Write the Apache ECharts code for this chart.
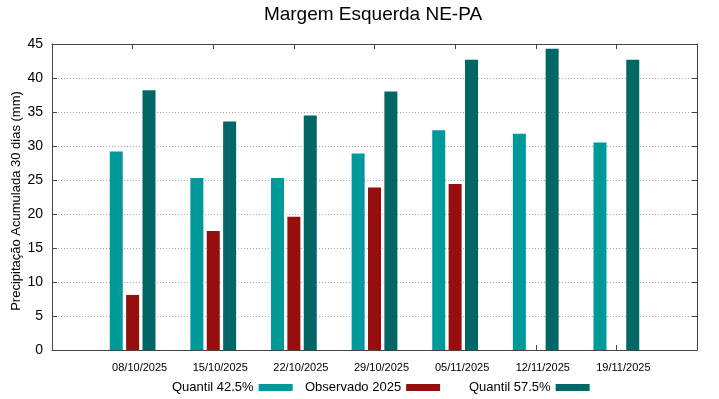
<!DOCTYPE html>
<html>
<head>
<meta charset="utf-8">
<script src="https://cdn.jsdelivr.net/npm/echarts@6/dist/echarts.min.js"></script>
<style>
  html, body { margin: 0; padding: 0; background: #fff; }
  #main { width: 719px; height: 399px; }
</style>
</head>
<body>
<div id="main"></div>
<script>
var dates = ['08/10/2025', '15/10/2025', '22/10/2025', '29/10/2025', '05/11/2025', '12/11/2025', '19/11/2025'];
var quantil425 = [29.2, 25.3, 25.3, 28.9, 32.3, 31.8, 30.5];
var observado = [8.1, 17.5, 19.6, 23.9, 24.4, null, null];
var quantil575 = [38.2, 33.6, 34.5, 38.0, 42.7, 44.3, 42.7];

var FONT = '"Liberation Sans", Arial, sans-serif';
var frameColor = '#444';

// bars sit at 1..7 on an axis that runs 0..8
function toPoints(arr) {
    var out = [];
    for (var i = 0; i < arr.length; i++) {
        if (arr[i] != null) out.push([i + 1, arr[i]]);
    }
    return out;
}

function legendAt(name, left) {
    return {
        data: [name],
        left: left,
        top: 381,
        padding: 0,
        align: 'right',
        icon: 'rect',
        itemWidth: 34,
        itemHeight: 7,
        selectedMode: false,
        textStyle: { fontFamily: FONT, fontSize: 13, color: '#000' }
    };
}

var chart = echarts.init(document.getElementById('main'), null, { renderer: 'canvas' });

var option = {
    backgroundColor: '#fff',
    animation: false,
    title: {
        text: 'Margem Esquerda NE-PA',
        left: 373,
        textAlign: 'center',
        top: 5,
        padding: 0,
        textStyle: { fontFamily: FONT, fontSize: 19, fontWeight: 'normal', color: '#000' }
    },
    legend: [
        legendAt('Quantil 42.5%', 172),
        legendAt('Observado 2025', 305),
        legendAt('Quantil 57.5%', 469)
    ],
    grid: { left: 52, right: 22, top: 44, bottom: 49, outerBoundsMode: 'none' },
    xAxis: [{
        type: 'value',
        min: 0,
        max: 8,
        interval: 1,
        position: 'bottom',
        axisLine: { show: true, onZero: false, lineStyle: { color: frameColor, width: 1 } },
        axisTick: { show: true, inside: true, length: 5, lineStyle: { color: frameColor } },
        splitLine: { show: false },
        axisLabel: {
            fontFamily: FONT,
            fontSize: 11,
            color: '#000',
            margin: 12,
            padding: [0, 0, 0, 14],
            formatter: function (v) { return (v >= 1 && v <= dates.length) ? dates[v - 1] : ''; }
        }
    }, {
        type: 'value',
        min: 0,
        max: 8,
        interval: 1,
        position: 'top',
        axisLine: { show: true, onZero: false, lineStyle: { color: frameColor, width: 1 } },
        axisTick: { show: true, inside: true, length: 5, lineStyle: { color: frameColor } },
        splitLine: { show: false },
        axisLabel: { show: false }
    }],
    yAxis: [{
        type: 'value',
        min: 0,
        max: 45,
        interval: 5,
        name: 'Precipitação Acumulada 30 dias (mm)',
        nameLocation: 'middle',
        nameGap: 29,
        nameMoveOverlap: false,
        nameTextStyle: { fontFamily: FONT, fontSize: 13, color: '#000', padding: [0, 8, 0, 0] },
        axisLine: { show: true, onZero: false, lineStyle: { color: frameColor, width: 1 } },
        axisTick: { show: true, inside: true, length: 5, lineStyle: { color: frameColor } },
        axisLabel: { fontFamily: FONT, fontSize: 14, color: '#000', margin: 9 },
        splitLine: { show: true, lineStyle: { color: '#aaa', type: [1, 2], width: 1 } }
    }, {
        type: 'value',
        min: 0,
        max: 45,
        interval: 5,
        position: 'right',
        axisLine: { show: true, onZero: false, lineStyle: { color: frameColor, width: 1 } },
        axisTick: { show: true, inside: true, length: 5, lineStyle: { color: frameColor } },
        axisLabel: { show: false },
        splitLine: { show: false }
    }],
    series: [{
        name: 'Quantil 42.5%',
        type: 'bar',
        barWidth: 13,
        barGap: '26%',
        itemStyle: { color: '#009999' },
        data: toPoints(quantil425)
    }, {
        name: 'Observado 2025',
        type: 'bar',
        barWidth: 13,
        barGap: '26%',
        itemStyle: { color: '#960e0e' },
        data: toPoints(observado)
    }, {
        name: 'Quantil 57.5%',
        type: 'bar',
        barWidth: 13,
        barGap: '26%',
        itemStyle: { color: '#006666' },
        data: toPoints(quantil575)
    }]
};

chart.setOption(option);
</script>
</body>
</html>
